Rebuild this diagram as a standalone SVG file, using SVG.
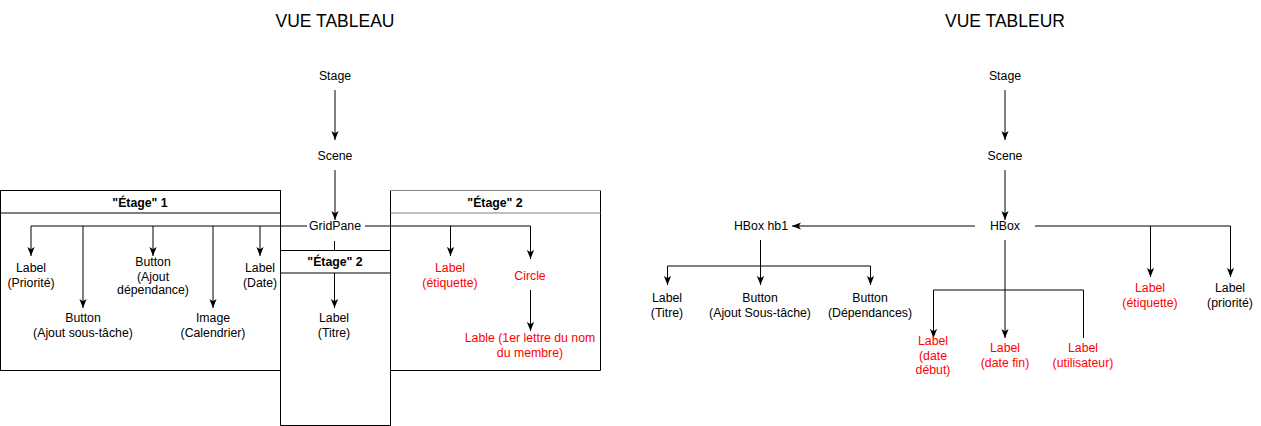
<svg xmlns="http://www.w3.org/2000/svg" width="1261" height="426" viewBox="0 0 1261 426">
<style>
text{font-family:"Liberation Sans",Arial,sans-serif;font-size:12.3px;text-anchor:middle;fill:#000}
.t{font-size:17.5px}
.b{font-weight:bold}
.r{fill:#ff0000}
.ln{fill:none;stroke:#000;stroke-width:1}
.box{fill:none;stroke:#000;stroke-width:1}
.gr{stroke:#808080}
</style>
<defs>
<marker id="a" viewBox="0 0 10 8" refX="10" refY="4" markerWidth="9" markerHeight="7.2" markerUnits="userSpaceOnUse" orient="auto">
<path d="M10,4 L0,0 L2.5,4 L0,8 Z" fill="#000"/>
</marker>
</defs>
<rect width="1261" height="426" fill="#fff"/>
<text class="t" x="335" y="27">VUE TABLEAU</text>
<text class="t" x="1005" y="27">VUE TABLEUR</text>

<g id="etage1">
<rect class="box" x="0.5" y="190.5" width="280" height="180"/>
<line class="ln" x1="0.5" y1="213" x2="280.5" y2="213"/>
<text class="b" x="140" y="207">"Étage" 1</text>
</g>
<g id="etage2-right">
<path class="box" d="M390.5,190.5 V370.5 H600.5 V190.5"/>
<line class="ln gr" x1="390.5" y1="190.5" x2="600.5" y2="190.5"/>
<line class="ln gr" x1="390.5" y1="213" x2="600.5" y2="213"/>
<text class="b" x="495" y="207">"Étage" 2</text>
</g>

<g id="connectors">
<path class="ln" d="M335,90 V140" marker-end="url(#a)"/>
<path class="ln" d="M335,170 V220" marker-end="url(#a)"/>
<path class="ln" d="M307,226 H31 V256" marker-end="url(#a)"/>
<path class="ln" d="M83,226 V308" marker-end="url(#a)"/>
<path class="ln" d="M153,226 V256" marker-end="url(#a)"/>
<path class="ln" d="M213,226 V308" marker-end="url(#a)"/>
<path class="ln" d="M260,226 V256" marker-end="url(#a)"/>
<path class="ln" d="M365,226 H450.5 V256" marker-end="url(#a)"/>
<path class="ln" d="M450,226 H530.5 V259" marker-end="url(#a)"/>
<path class="ln" d="M530.5,290 V331" marker-end="url(#a)"/>
<path class="ln" d="M334.5,241 V250"/>
<path class="ln" d="M334.5,273 V308" marker-end="url(#a)"/>

<path class="ln" d="M1005,90 V140" marker-end="url(#a)"/>
<path class="ln" d="M1005,170 V220" marker-end="url(#a)"/>
<path class="ln" d="M975,226 H792" marker-end="url(#a)"/>
<path class="ln" d="M1035,226 H1230.5 V277" marker-end="url(#a)"/>
<path class="ln" d="M1150.5,226 V277" marker-end="url(#a)"/>
<path class="ln" d="M1005,240 V338" marker-end="url(#a)"/>
<path class="ln" d="M1083.5,338 V290 H933.5 V338" marker-end="url(#a)"/>
<path class="ln" d="M933.5,290 V338"/>
<path class="ln" d="M760.5,240 V285" marker-end="url(#a)"/>
<path class="ln" d="M667.5,285 V266 H870.5 V285" marker-end="url(#a)"/>
<path class="ln" d="M667.5,266 V285" marker-end="url(#a)"/>
</g>

<g id="etage2-mid">
<path class="box" d="M280.5,250.5 H390.5 V425.5 H280.5 Z"/>
<line class="ln" x1="280.5" y1="273" x2="390.5" y2="273"/>
<text class="b" x="335" y="266">"Étage" 2</text>
</g>

<g id="stage-l"><text x="335" y="80">Stage</text></g>
<g id="scene-l"><text x="335" y="160">Scene</text></g>
<g id="gridpane"><text x="335" y="230">GridPane</text></g>
<g id="label-priorite"><text x="31" y="272">Label</text><text x="31" y="287">(Priorité)</text></g>
<g id="button-soustache"><text x="83" y="322">Button</text><text x="83" y="337">(Ajout sous-tâche)</text></g>
<g id="button-dependance"><text x="153" y="266">Button</text><text x="153" y="281">(Ajout</text><text x="153" y="294">dépendance)</text></g>
<g id="image-calendrier"><text x="213" y="322">Image</text><text x="213" y="337">(Calendrier)</text></g>
<g id="label-date"><text x="260" y="272">Label</text><text x="260" y="287">(Date)</text></g>
<g id="label-titre"><text x="334" y="322">Label</text><text x="334" y="337">(Titre)</text></g>
<g id="label-etiquette-l"><text class="r" x="450" y="272">Label</text><text class="r" x="450" y="287">(étiquette)</text></g>
<g id="circle"><text class="r" x="530" y="280">Circle</text></g>
<g id="lable-membre"><text class="r" x="530" y="342">Lable (1er lettre du nom</text><text class="r" x="530" y="357">du membre)</text></g>

<g id="stage-r"><text x="1005" y="80">Stage</text></g>
<g id="scene-r"><text x="1005" y="160">Scene</text></g>
<g id="hbox"><text x="1005" y="230">HBox</text></g>
<g id="hbox-hb1"><text x="761" y="230">HBox hb1</text></g>
<g id="label-titre-r"><text x="667" y="302">Label</text><text x="667" y="317">(Titre)</text></g>
<g id="button-soustache-r"><text x="760" y="302">Button</text><text x="760" y="317">(Ajout Sous-tâche)</text></g>
<g id="button-dependances"><text x="870" y="302">Button</text><text x="870" y="317">(Dépendances)</text></g>
<g id="label-etiquette-r"><text class="r" x="1150" y="292">Label</text><text class="r" x="1150" y="307">(étiquette)</text></g>
<g id="label-priorite-r"><text x="1230" y="292">Label</text><text x="1230" y="307">(priorité)</text></g>
<g id="label-datedebut"><text class="r" x="933" y="345">Label</text><text class="r" x="933" y="360">(date</text><text class="r" x="933" y="374">début)</text></g>
<g id="label-datefin"><text class="r" x="1005" y="352">Label</text><text class="r" x="1005" y="367">(date fin)</text></g>
<g id="label-utilisateur"><text class="r" x="1083" y="352">Label</text><text class="r" x="1083" y="367">(utilisateur)</text></g>
</svg>
